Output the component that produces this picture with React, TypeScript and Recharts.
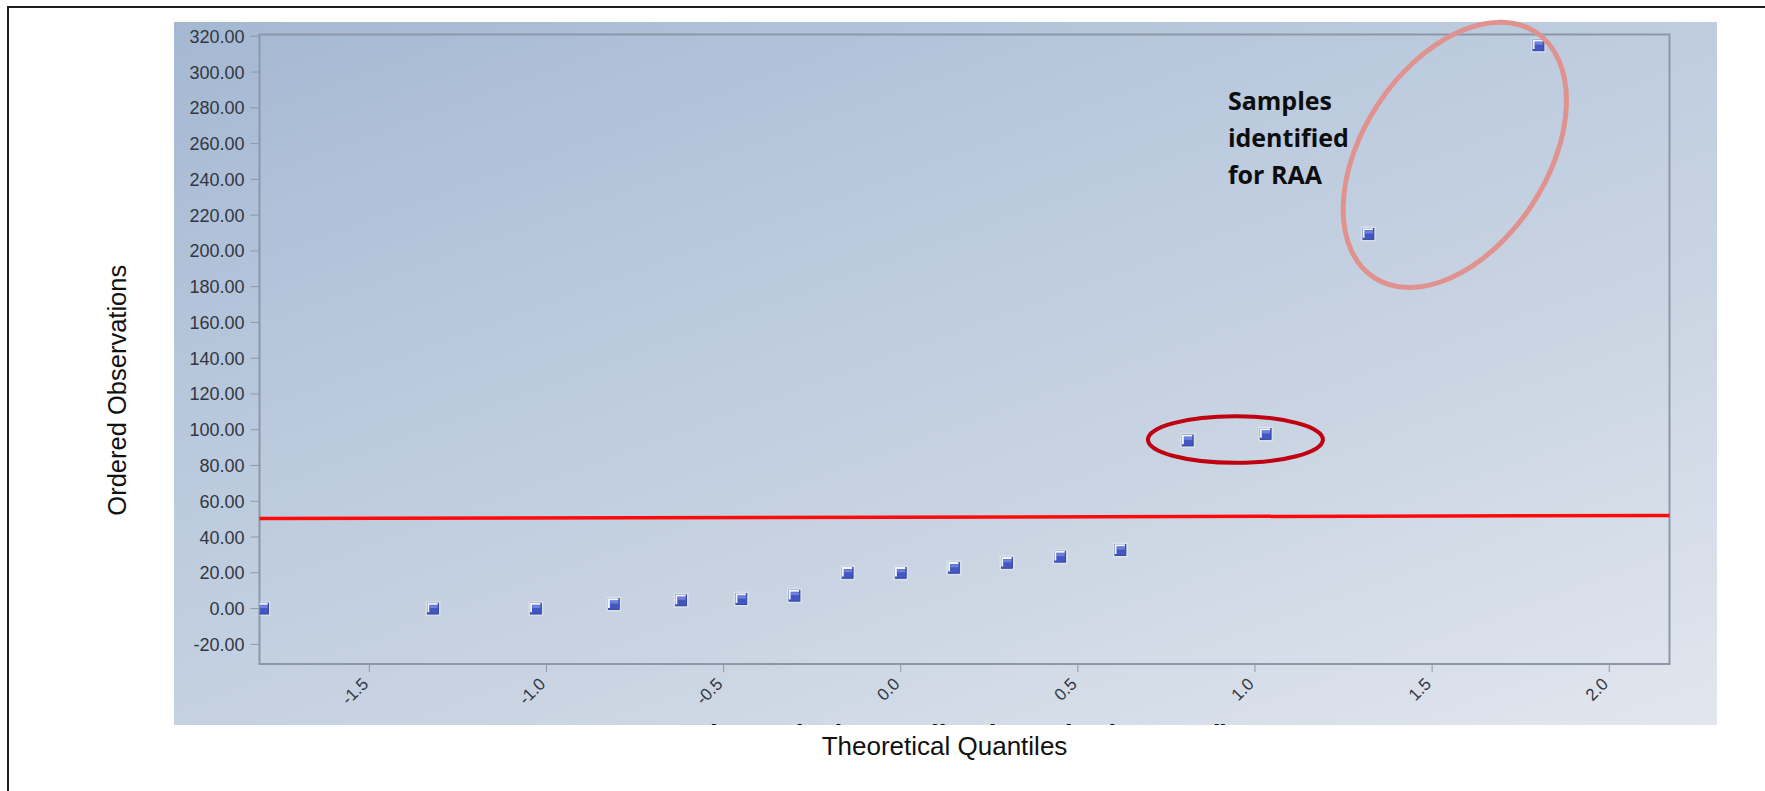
import React from 'react'
import { ScatterChart, Scatter, XAxis, YAxis, ReferenceLine, ReferenceArea, ReferenceDot, Label } from 'recharts'

const quantiles = [-1.8, -1.32, -1.03, -0.81, -0.62, -0.45, -0.3, -0.15, 0, 0.15, 0.3, 0.45, 0.62, 0.81, 1.03, 1.32, 1.8]
const observations = [0, 0, 0, 2.5, 4.6, 5.3, 7.2, 20, 20, 22.8, 25.6, 29, 32.7, 94, 97.6, 209.5, 315]
const xTicks = [-1.5, -1.0, -0.5, 0, 0.5, 1.0, 1.5, 2.0]
const yTicks = [-20, 0, 20, 40, 60, 80, 100, 120, 140, 160, 180, 200, 220, 240, 260, 280, 300, 320]
const xDomain = [-1.81, 2.17]
const yDomain = [-31, 321]
const refLineX = [-1.81, 2.17]
const refLineY = [50.4, 52.0]
const noteLines = ['Samples', 'identified', 'for RAA']

const FONT = '"Liberation Sans", Arial, sans-serif'

const points = quantiles.map((q, i) => ({ q, v: observations[i] }))

const SquareMarker = (props: any) => {
  const { cx, cy } = props
  if (cx == null || cy == null) return null
  return (
    <g>
      <rect x={cx - 7.5} y={cy - 7.5} width={15} height={15} fill="#ffffff" opacity={0.3} />
      <rect x={cx - 5.5} y={cy - 5.5} width={11} height={11} fill="#4257c2" stroke="#2c3c96" strokeWidth={0.8} />
      <rect x={cx - 3.5} y={cy - 3.5} width={8} height={3} fill="#6d80dc" />
      <path d={`M${cx - 4.8} ${cy + 3.8} V${cy - 4.8} H${cx + 4.6}`} stroke="#f3f5ff" strokeWidth={1.9} fill="none" />
    </g>
  )
}

const YTick = ({ x, y, payload }: any) => (
  <text x={x} y={y} dy={6.5} textAnchor="end" fill="#313742" fontSize={18} fontFamily={FONT}>
    {Number(payload.value).toFixed(2)}
  </text>
)

const XTick = ({ x, y, payload }: any) => (
  <g transform={`translate(${x},${y + 11})`}>
    <text x={0} y={0} transform="rotate(-45)" textAnchor="end" fill="#313742" fontSize={17} fontFamily={FONT}>
      {Number(payload.value).toFixed(1)}
    </text>
  </g>
)

const App = () => {
  return (
    <div style={{ position: 'absolute', left: 0, top: 0, width: 1765, height: 791, background: '#ffffff', overflow: 'hidden' }}>
      {/* page frame */}
      <div style={{ position: 'absolute', left: 7, top: 6, width: 1800, height: 900, borderTop: '2px solid #1e1e1e', borderLeft: '2px solid #1e1e1e' }} />
      {/* chart panel */}
      <div
        style={{
          position: 'absolute',
          left: 174,
          top: 22,
          width: 1543,
          height: 703,
          background: 'linear-gradient(160deg, #a5b8d2 0%, #bac9dd 35%, #cad5e3 65%, #e2e6ee 100%)',
        }}
      />
      {/* original axis title, cut off by the panel edge */}
      <svg style={{ position: 'absolute', left: 0, top: 0 }} width={1765} height={725}>
        <text x={693} y={744} fontSize={28} fontWeight="bold" fill="#111" fontFamily={FONT}>
          Theoretical Quantiles (Standard Normal)
        </text>
      </svg>
      <div style={{ position: 'absolute', left: 0, top: 0 }}>
        <ScatterChart width={1765} height={791} margin={{ top: 34.5, right: 95.5, bottom: 67, left: 159.5 }}>
          <XAxis
            type="number"
            dataKey="q"
            domain={xDomain}
            ticks={xTicks}
            allowDataOverflow
            height={60}
            axisLine={false}
            tickSize={8}
            tickMargin={2}
            tickLine={{ stroke: '#8f99a6' }}
            tick={<XTick />}
          >
            <Label
              content={({ viewBox }: any) => (
                <text x={viewBox.x + viewBox.width / 2 - 20} y={viewBox.y + 91} textAnchor="middle" fontSize={26} fill="#111" fontFamily={FONT}>
                  Theoretical Quantiles
                </text>
              )}
            />
          </XAxis>
          <YAxis
            type="number"
            dataKey="v"
            domain={yDomain}
            ticks={yTicks}
            allowDataOverflow
            width={100}
            axisLine={false}
            tickSize={9}
            tickMargin={6}
            tickLine={{ stroke: '#8f99a6' }}
            tick={<YTick />}
          >
            <Label
              content={({ viewBox }: any) => {
                const lx = viewBox.x + viewBox.width - 134
                const ly = viewBox.y + viewBox.height / 2 + 41
                return (
                  <text x={lx} y={ly} transform={`rotate(-90, ${lx}, ${ly})`} textAnchor="middle" fontSize={25.5} fill="#111" fontFamily={FONT}>
                    Ordered Observations
                  </text>
                )
              }}
            />
          </YAxis>
          <ReferenceArea x1={xDomain[0]} x2={xDomain[1]} y1={yDomain[0]} y2={yDomain[1]} fill="none" stroke="#8c97a7" strokeWidth={2} ifOverflow="visible" />
          <ReferenceLine
            segment={[{ x: refLineX[0], y: refLineY[0] }, { x: refLineX[1], y: refLineY[1] }]}
            stroke="#ff0a0a"
            strokeWidth={3.5}
            ifOverflow="visible"
          />
          <Scatter data={points} dataKey="v" shape={<SquareMarker />} isAnimationActive={false} />
          <ReferenceDot
            x={0.9447}
            y={94.5}
            ifOverflow="visible"
            shape={(p: any) => <ellipse cx={p.cx} cy={p.cy} rx={87.5} ry={23.3} fill="none" stroke="#c00010" strokeWidth={4} />}
          />
          <ReferenceDot
            x={1.564}
            y={253.7}
            ifOverflow="visible"
            shape={(p: any) => (
              <ellipse cx={p.cx} cy={p.cy} rx={147} ry={92} transform={`rotate(-56.5, ${p.cx}, ${p.cy})`} fill="none" stroke="#e0938e" strokeWidth={5} />
            )}
          />
          <ReferenceDot
            x={0.9235}
            y={278.9}
            ifOverflow="visible"
            shape={(p: any) => (
              <text x={p.cx} y={p.cy} fontSize={25} fontWeight="bold" fill="#0d0d0d" fontFamily='"Open Sans", sans-serif'>
                {noteLines.map((line, i) => (
                  <tspan key={line} x={p.cx} y={p.cy + i * 37}>
                    {line}
                  </tspan>
                ))}
              </text>
            )}
          />
        </ScatterChart>
      </div>
    </div>
  )
}

export default App
